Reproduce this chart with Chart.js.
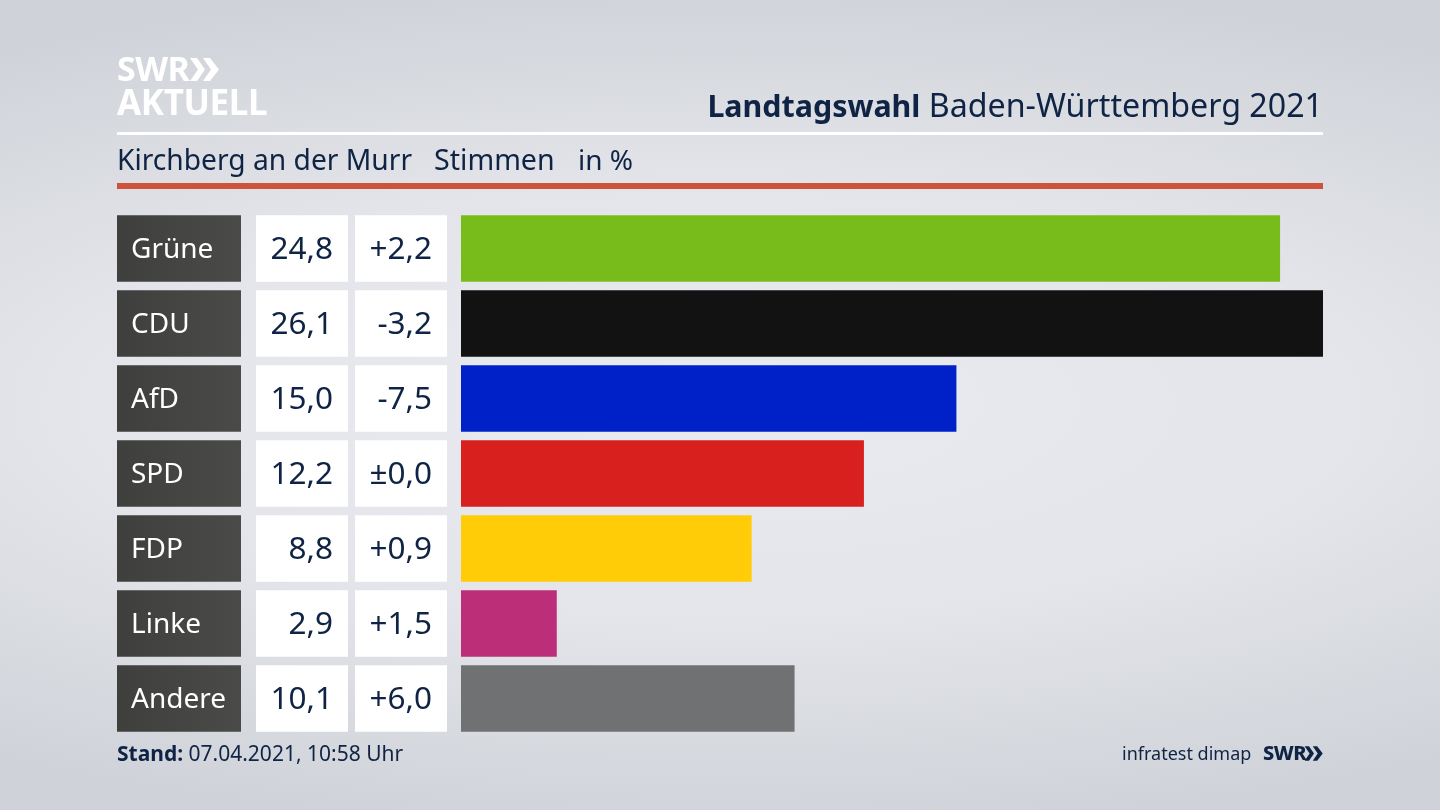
<!DOCTYPE html>
<html lang="de"><head><meta charset="utf-8">
<script src="https://cdn.jsdelivr.net/npm/chart.js@4"></script>
<style>
html,body{margin:0;padding:0;width:1440px;height:810px;overflow:hidden}
body{position:relative;font-family:"Noto Sans",sans-serif;color:#0f2344;
background:radial-gradient(ellipse 1300px 430px at 50% 50%,#eaebf0 0%,#e3e5ea 50%,#cfd2d8 100%);}
canvas{position:absolute;left:0;top:0}
.t{position:absolute;white-space:nowrap;line-height:1}
.r{position:absolute;left:117px;width:1206px}
</style></head><body>
<canvas id="c" width="1440" height="810"></canvas>
<div class="t" id="logo1" style="left:117px;top:51px;font-size:34px;font-weight:700;color:#fff;letter-spacing:-.5px">SWR</div>
<svg style="position:absolute;left:189px;top:57px" width="32" height="25" viewBox="0 0 32 25"><path d="M1 1h7l8 11.500-8 11.500h-7l8-11.500zM14 1h7l9 11.500-9 11.500h-7l8-11.500z" fill="#fff"/></svg>
<div class="t" style="left:117px;top:84px;font-size:35px;font-weight:700;color:#fff;letter-spacing:-.4px">AKTUELL</div>
<div class="t" style="right:117px;top:89px;font-size:32.200px"><b style="font-size:30.400px">Landtagswahl</b> Baden-Württemberg 2021</div>
<div class="r" style="top:132px;height:3px;background:#fff"></div>
<div class="t" style="left:117px;top:145px;font-size:28.200px">Kirchberg an der Murr</div>
<div class="t" style="left:434px;top:145px;font-size:28.600px">Stimmen</div>
<div class="t" style="left:578px;top:145px;font-size:28px">in %</div>
<div class="r" style="top:183px;height:6px;background:#cd533b"></div>
<div class="t" style="left:117px;top:743px;font-size:21px"><b>Stand:</b> 07.04.2021, 10:58 Uhr</div>
<div class="t" style="left:1122px;top:744px;font-size:18px">infratest dimap</div>
<div class="t" style="left:1263px;top:743px;font-size:20px;font-weight:800;letter-spacing:-.5px">SWR</div>
<svg style="position:absolute;left:1304px;top:745px" width="20" height="17" viewBox="0 0 32 25"><path d="M1 1h7l8 11.500-8 11.500h-7l8-11.500zM14 1h7l9 11.500-9 11.500h-7l8-11.500z" fill="#0f2344"/></svg>
<script>
const parties=["Grüne","CDU","AfD","SPD","FDP","Linke","Andere"];
const shares=[24.8,26.1,15.0,12.2,8.8,2.9,10.1];
const changes=["+2,2","-3,2","-7,5","±0,0","+0,9","+1,5","+6,0"];
const colors=["#78bc1b","#121212","#0020c8","#d8201e","#ffcc07","#bc2f78","#707173"];
const ink="#0f2344",FONT='"Noto Sans",sans-serif';
const rowBoxes={
 id:"rowBoxes",
 beforeDraw(chart){
  const {ctx,scales:{y}}=chart;
  const h=66.5;
  y.getLabelItems().forEach(it=>{it.options.translation=[it.options.translation[0],it.options.translation[1]+2];});
  ctx.save();
  parties.forEach((p,i)=>{
   const cy=y.getPixelForValue(i),t=cy-h/2;
   const g=ctx.createLinearGradient(117,0,241,0);
   g.addColorStop(0,"#3f3f3e");g.addColorStop(1,"#4a4a48");
   ctx.fillStyle=g;ctx.fillRect(117,t,124,h);
   ctx.fillStyle="#fff";ctx.fillRect(256,t,92,h);ctx.fillRect(355,t,92,h);
   ctx.fillStyle=ink;ctx.font="31.5px "+FONT;ctx.textAlign="right";ctx.textBaseline="middle";
   ctx.fillText(shares[i].toFixed(1).replace(".",","),333,cy+2);
   ctx.fillText(changes[i],432,cy+2);
  });
  ctx.restore();
 }
};
Chart.defaults.animation=false;
new Chart(document.getElementById("c"),{
 type:"bar",
 data:{labels:parties,datasets:[{data:shares,backgroundColor:colors,borderWidth:0,
   categoryPercentage:1,barPercentage:66.5/75}]},
 options:{indexAxis:"y",responsive:false,maintainAspectRatio:false,devicePixelRatio:1,
  layout:{padding:{left:131,right:117,top:211,bottom:74}},
  plugins:{legend:{display:false},title:{display:false},tooltip:{enabled:false}},
  scales:{
   x:{display:false,min:0,max:26.1},
   y:{grid:{display:false},border:{display:false},
      afterFit(s){s.width=330;},
      ticks:{crossAlign:"far",color:"#fff",padding:0,font:{family:FONT,size:28}}}
  }},
 plugins:[rowBoxes]
});
</script>
</body></html>
